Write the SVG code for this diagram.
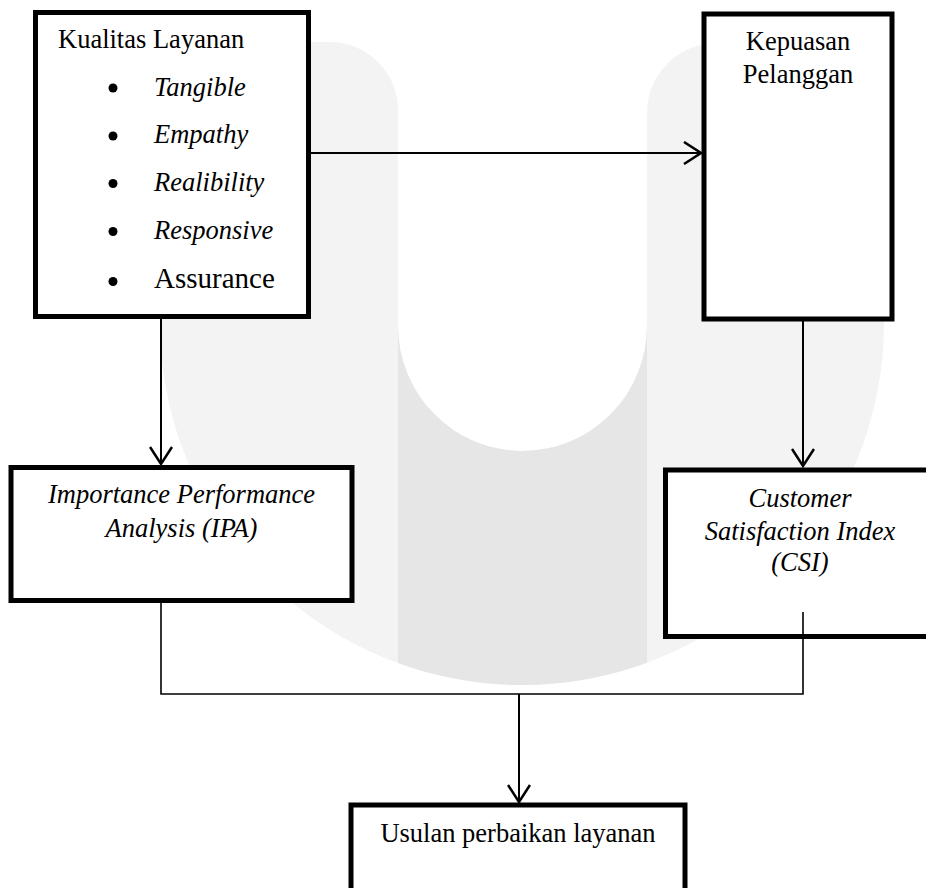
<svg xmlns="http://www.w3.org/2000/svg" width="926" height="888" viewBox="0 0 926 888">
<style>
.box{fill:#fff;stroke:#000;stroke-width:5}
.t{font-family:"Liberation Serif","Times New Roman",serif;font-size:26.5px;fill:#000}
.i{font-style:italic}
.c{text-anchor:middle}
.ln{stroke:#000;stroke-width:2;fill:none}
.thin{stroke:#000;stroke-width:1.6;fill:none}
</style>
<defs>
<marker id="ah" markerUnits="userSpaceOnUse" viewBox="0 0 20 24" markerWidth="20" markerHeight="24" refX="18" refY="12" orient="auto">
<path d="M1,1 L18,12 L1,23" fill="none" stroke="#000" stroke-width="2.5"/>
</marker>
</defs>
<rect width="926" height="888" fill="#fff"/>
<g id="watermark">
<path fill="#f3f3f3" d="M160,110 A68,68 0 0 1 228,42 L330,42 A68,68 0 0 1 398,110 L398,326 A124.5,125 0 0 0 647,326 L647,112 A70,70 0 0 1 717,43 L814,43 A70,70 0 0 1 884,112 L884,323 A362,362 0 0 1 160,323 Z"/>
<path fill="#e6e6e6" d="M398,326 A124.5,125 0 0 0 647,326 L647,662.7 A362,362 0 0 1 398,663.1 Z"/>
</g>
<g id="kualitas">
<rect class="box" x="35.5" y="12.5" width="273" height="304"/>
<text class="t" x="58" y="48">Kualitas Layanan</text>
<circle cx="113" cy="88" r="4.5"/>
<circle cx="113" cy="136" r="4.5"/>
<circle cx="113" cy="183.5" r="4.5"/>
<circle cx="113" cy="231.5" r="4.5"/>
<circle cx="113" cy="281.5" r="4.5"/>
<text class="t i" x="154" y="95.5">Tangible</text>
<text class="t i" x="154" y="143">Empathy</text>
<text class="t i" x="154" y="191">Realibility</text>
<text class="t i" x="154" y="239">Responsive</text>
<text class="t" x="154" y="288" style="font-size:29px">Assurance</text>
</g>
<g id="kepuasan">
<rect class="box" x="704" y="14" width="188" height="305"/>
<text class="t c" x="798" y="50">Kepuasan</text>
<text class="t c" x="798" y="83">Pelanggan</text>
</g>
<g id="ipa">
<rect class="box" x="11" y="467.5" width="341" height="133"/>
<text class="t i c" x="181.5" y="503">Importance Performance</text>
<text class="t i c" x="181.5" y="537">Analysis (IPA)</text>
</g>
<g id="csi">
<rect class="box" x="665.5" y="470" width="270" height="166.5"/>
<text class="t i c" x="800" y="507">Customer</text>
<text class="t i c" x="800" y="540">Satisfaction Index</text>
<text class="t i c" x="800" y="571">(CSI)</text>
</g>
<g id="usulan">
<rect class="box" x="351" y="805" width="334" height="100"/>
<text class="t c" x="518" y="842">Usulan perbaikan layanan</text>
</g>
<g id="connectors">
<line class="ln" x1="310" y1="153" x2="701" y2="153" marker-end="url(#ah)"/>
<line class="ln" x1="161" y1="318" x2="161" y2="464" marker-end="url(#ah)"/>
<line class="ln" x1="803" y1="320" x2="803" y2="466" marker-end="url(#ah)"/>
<polyline class="thin" points="161,602 161,694 803,694 803,612"/>
<line class="ln" x1="519" y1="694" x2="519" y2="802" marker-end="url(#ah)"/>
</g>
</svg>
